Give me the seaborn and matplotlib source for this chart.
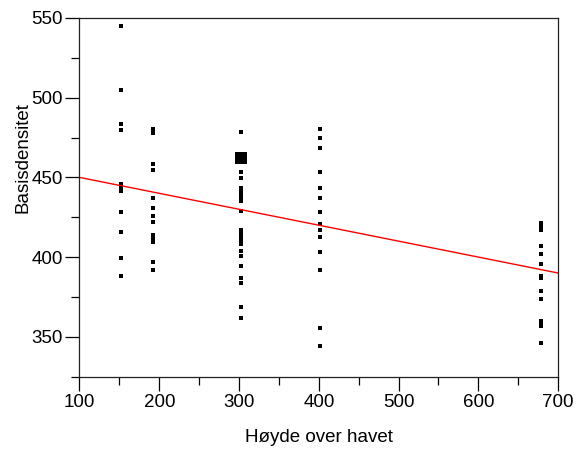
import numpy as np
import pandas as pd
import matplotlib
matplotlib.use("Agg")
import matplotlib.pyplot as plt
import seaborn as sns
from matplotlib.ticker import MultipleLocator

# ---- data ----
hoyde_152 = [152] * 11
dens_152 = [544.8, 504.7, 483.3, 479.9, 446.0, 443.9, 441.2, 428.4, 415.8, 399.7, 388.4]

hoyde_192 = [192] * 13
dens_192 = [480.2, 477.7, 458.6, 454.8, 437.2, 430.9, 425.9, 422.1, 413.8, 411.6, 409.4, 397.2, 392.1]

hoyde_302 = [302] * 21
dens_302 = [478.3, 453.3, 449.6, 443.3, 441.2, 439.1, 437.0, 434.9, 429.2, 416.7, 414.6,
            412.5, 410.4, 408.3, 403.6, 400.8, 394.7, 386.9, 383.5, 368.4, 362.1]

hoyde_402 = [402] * 14
dens_402 = [480.6, 474.7, 468.4, 453.3, 443.5, 437.2, 428.6, 420.8, 416.7, 412.9, 403.5, 392.1, 355.8, 344.3]

hoyde_678 = [678] * 14
dens_678 = [421.3, 419.2, 417.1, 407.2, 402.2, 395.9, 388.4, 386.7, 378.5, 373.5, 359.6, 358.0, 356.5, 345.8]

# highlighted (large) point
big_hoyde = [302]
big_dens = [462.4]

# regression line end points
line_x = [100, 700]
line_y = [450, 390]

x_ticks = [100, 200, 300, 400, 500, 600, 700]
y_ticks = [350, 400, 450, 500, 550]

df = pd.DataFrame({
    "Høyde over havet": hoyde_152 + hoyde_192 + hoyde_302 + hoyde_402 + hoyde_678,
    "Basisdensitet": dens_152 + dens_192 + dens_302 + dens_402 + dens_678,
})
df_big = pd.DataFrame({"Høyde over havet": big_hoyde, "Basisdensitet": big_dens})
df_line = pd.DataFrame({"Høyde over havet": line_x, "Basisdensitet": line_y})

sns.set_theme(style="white")
plt.rcParams["font.family"] = ["Liberation Sans", "DejaVu Sans"]

fig = plt.figure(figsize=(5.76, 4.5), dpi=100)
ax = fig.add_axes([0.138, 0.163, 0.831, 0.797])

sns.lineplot(data=df_line, x="Høyde over havet", y="Basisdensitet", ax=ax,
             color="red", linewidth=1.0)
sns.scatterplot(data=df, x="Høyde over havet", y="Basisdensitet", ax=ax,
                marker="s", s=7, color="black", linewidth=0)
sns.scatterplot(data=df_big, x="Høyde over havet", y="Basisdensitet", ax=ax,
                marker="s", s=75, color="black", linewidth=0)

ax.set_xlim(100, 700)
ax.set_ylim(325, 550)
ax.set_xticks(x_ticks)
ax.set_yticks(y_ticks)
ax.xaxis.set_minor_locator(MultipleLocator(50))
ax.yaxis.set_minor_locator(MultipleLocator(25))

for s in ax.spines.values():
    s.set_visible(True)
    s.set_color("#222222")
    s.set_linewidth(0.9)

ax.tick_params(axis="both", which="major", direction="out", length=10, width=0.9,
               color="black", labelsize=13.5, labelcolor="black", pad=2.2,
               bottom=True, left=True, top=False, right=False)
ax.tick_params(axis="both", which="minor", direction="out", length=6, width=0.9,
               color="black", bottom=True, left=True, top=False, right=False)

ax.set_xlabel("Høyde over havet", fontsize=13.5, labelpad=13, color="black")
ax.set_ylabel("Basisdensitet", fontsize=13.5, color="black")
ax.yaxis.set_label_coords(-0.10, 0.612)
ax.grid(False)

fig.savefig("out.png", dpi=100)
